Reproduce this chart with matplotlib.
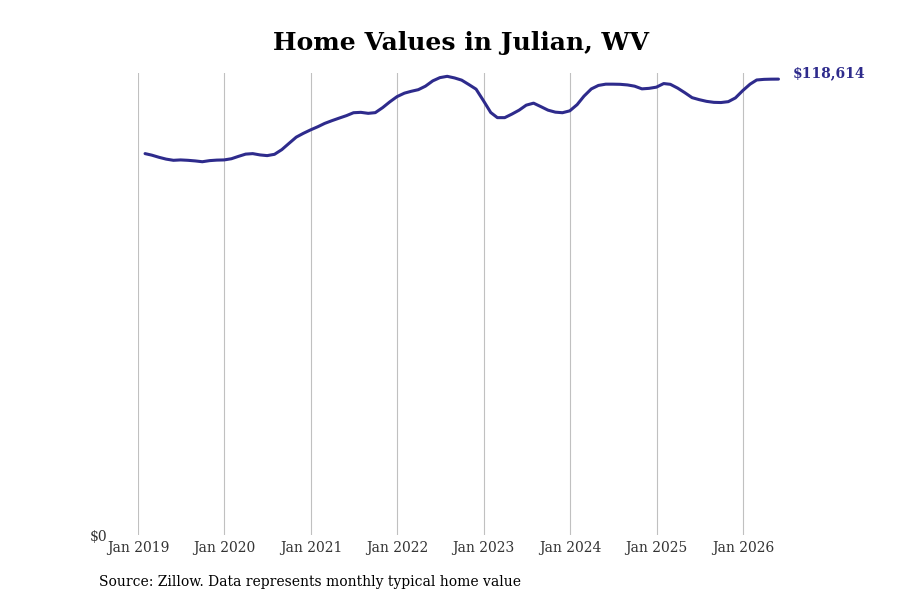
import pandas as pd
import matplotlib
matplotlib.use("Agg")
import matplotlib.pyplot as plt

# monthly typical home value (Zillow, end of month), Jan 2019 .. May 2026
START = "2019-01-31"
values = [
    99230, 98840, 98270, 97800, 97490, 97590, 97490, 97330, 97120, 97410, 97540, 97590,
    97900, 98500, 99100, 99230, 98890, 98710, 99050, 100270, 101880, 103520, 104510, 105420,
    106250, 107090, 107810, 108460, 109110, 109870, 109970, 109710, 109890, 111190, 112680, 114060,
    114960, 115430, 115870, 116780, 118160, 119000, 119340, 118920, 118350, 117180, 116000, 113020,
    109920, 108590, 108590, 109500, 110540, 111840, 112360, 111450, 110540, 110020, 109870, 110360,
    111970, 114180, 116060, 116970, 117300, 117300, 117260, 117100, 116780, 116080, 116210, 116520,
    117460, 117260, 116270, 115090, 113790, 113270, 112830, 112570, 112520, 112750, 113720, 115620,
    117300, 118390, 118550, 118600, 118614,
]
dates = pd.date_range(START, periods=len(values), freq="ME")
tick_years = list(range(2019, 2027))
tick_labels = [f"Jan {y}" for y in tick_years]

LINE = "#2e2b8c"
SERIF = "DejaVu Serif"

fig = plt.figure(figsize=(9, 6), dpi=100)
ax = fig.add_axes([0.1533, 0.1083, 0.7156, 0.77])

ax.plot(dates, values, color=LINE, lw=2.2, solid_capstyle="round", clip_on=False)
ax.set_xlim(pd.Timestamp("2019-01-01"), pd.Timestamp("2026-06-15"))
ax.set_ylim(0, 120200)

ax.set_xticks([pd.Timestamp(f"{y}-01-01") for y in tick_years])
ax.set_xticklabels(tick_labels, family=SERIF, fontsize=10, color="#333333")
ax.set_yticks([0])
ax.set_yticklabels(["$0"], family=SERIF, fontsize=10, color="#333333")
ax.tick_params(axis="both", length=0)
ax.tick_params(axis="x", pad=4)
ax.tick_params(axis="y", pad=22)
ax.grid(axis="x", color="#c0c0c0", lw=0.8)
ax.set_axisbelow(True)
for s in ax.spines.values():
    s.set_visible(False)

ax.annotate(f"${values[-1]:,}", (dates[-1], values[-1]), xytext=(10, 4),
            textcoords="offset points", color=LINE, fontsize=10, fontweight="bold",
            family=SERIF, va="center", ha="left", annotation_clip=False)

fig.text(0.5125, 0.928, "Home Values in Julian, WV", ha="center", va="center",
         family=SERIF, fontweight="bold", fontsize=18)
fig.text(0.11, 0.03, "Source: Zillow. Data represents monthly typical home value",
         ha="left", va="center", family=SERIF, fontsize=10)

fig.savefig("out.png", dpi=100)
